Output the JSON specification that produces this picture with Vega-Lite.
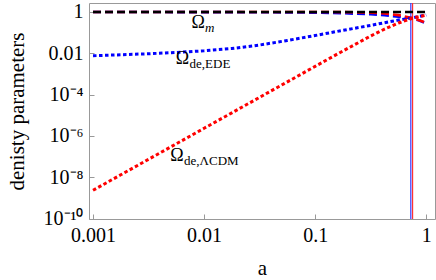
{
  "$schema": "https://vega.github.io/schema/vega-lite/v6.json",
  "width": 346,
  "height": 216,
  "autosize": {"type": "none"},
  "padding": {"left": 89, "top": 3, "right": 1, "bottom": 61},
  "config": {
    "view": {"stroke": "#999999", "strokeWidth": 1},
    "font": "Liberation Serif",
    "axis": {"grid": false, "domain": false, "tickColor": "#999999", "labelColor": "#000000", "titleColor": "#000000", "labelFont": "Liberation Serif", "titleFont": "Liberation Serif", "titleFontWeight": "normal"}
  },
  "datasets": {
    "curves": [
      {"s": "m", "a": 0.001, "v": 1.0},
      {"s": "m", "a": 0.01, "v": 1.0},
      {"s": "m", "a": 0.1, "v": 1.0},
      {"s": "m", "a": 1.0, "v": 1.0},

      {"s": "ede_m", "a": 0.001, "v": 0.9924},
      {"s": "ede_m", "a": 0.003162, "v": 0.9905},
      {"s": "ede_m", "a": 0.01, "v": 0.9868},
      {"s": "ede_m", "a": 0.03162, "v": 0.975},
      {"s": "ede_m", "a": 0.05623, "v": 0.958},
      {"s": "ede_m", "a": 0.1, "v": 0.928},
      {"s": "ede_m", "a": 0.1778, "v": 0.871},
      {"s": "ede_m", "a": 0.3162, "v": 0.776},
      {"s": "ede_m", "a": 0.4217, "v": 0.698},
      {"s": "ede_m", "a": 0.5623, "v": 0.593},
      {"s": "ede_m", "a": 0.7499, "v": 0.48},
      {"s": "ede_m", "a": 0.866, "v": 0.388},
      {"s": "ede_m", "a": 1.0, "v": 0.28},

      {"s": "lcdm_m", "a": 0.001, "v": 1.0},
      {"s": "lcdm_m", "a": 0.01, "v": 1.0},
      {"s": "lcdm_m", "a": 0.05623, "v": 0.9996},
      {"s": "lcdm_m", "a": 0.1, "v": 0.9977},
      {"s": "lcdm_m", "a": 0.1778, "v": 0.987},
      {"s": "lcdm_m", "a": 0.3162, "v": 0.9313},
      {"s": "lcdm_m", "a": 0.4217, "v": 0.851},
      {"s": "lcdm_m", "a": 0.5623, "v": 0.7067},
      {"s": "lcdm_m", "a": 0.7499, "v": 0.504},
      {"s": "lcdm_m", "a": 0.866, "v": 0.3976},
      {"s": "lcdm_m", "a": 1.0, "v": 0.3},

      {"s": "ede_de", "a": 0.001, "v": 0.0076},
      {"s": "ede_de", "a": 0.001778, "v": 0.0085},
      {"s": "ede_de", "a": 0.003162, "v": 0.0095},
      {"s": "ede_de", "a": 0.005623, "v": 0.011},
      {"s": "ede_de", "a": 0.01, "v": 0.0132},
      {"s": "ede_de", "a": 0.01778, "v": 0.017},
      {"s": "ede_de", "a": 0.03162, "v": 0.0251},
      {"s": "ede_de", "a": 0.05623, "v": 0.0417},
      {"s": "ede_de", "a": 0.1, "v": 0.0724},
      {"s": "ede_de", "a": 0.1778, "v": 0.129},
      {"s": "ede_de", "a": 0.3162, "v": 0.224},
      {"s": "ede_de", "a": 0.4217, "v": 0.302},
      {"s": "ede_de", "a": 0.5623, "v": 0.407},
      {"s": "ede_de", "a": 0.7499, "v": 0.52},
      {"s": "ede_de", "a": 0.866, "v": 0.612},
      {"s": "ede_de", "a": 1.0, "v": 0.72},

      {"s": "lcdm_de", "a": 0.001, "v": 2.333e-9},
      {"s": "lcdm_de", "a": 0.001778, "v": 1.312e-8},
      {"s": "lcdm_de", "a": 0.003162, "v": 7.378e-8},
      {"s": "lcdm_de", "a": 0.005623, "v": 4.149e-7},
      {"s": "lcdm_de", "a": 0.01, "v": 2.333e-6},
      {"s": "lcdm_de", "a": 0.01778, "v": 1.312e-5},
      {"s": "lcdm_de", "a": 0.03162, "v": 7.377e-5},
      {"s": "lcdm_de", "a": 0.05623, "v": 4.148e-4},
      {"s": "lcdm_de", "a": 0.1, "v": 0.002328},
      {"s": "lcdm_de", "a": 0.1778, "v": 0.01295},
      {"s": "lcdm_de", "a": 0.3162, "v": 0.0687},
      {"s": "lcdm_de", "a": 0.4217, "v": 0.149},
      {"s": "lcdm_de", "a": 0.5623, "v": 0.2933},
      {"s": "lcdm_de", "a": 0.7499, "v": 0.496},
      {"s": "lcdm_de", "a": 0.866, "v": 0.6024},
      {"s": "lcdm_de", "a": 1.0, "v": 0.7}
    ],
    "rules": [
      {"s": "ede", "a": 0.727},
      {"s": "lcdm", "a": 0.754}
    ],
    "labels": [
      {"k": "m", "a": 0.00883, "v": 0.295, "t": "Ω", "sub": "m"},
      {"k": "ede", "a": 0.0064, "v": 0.00543, "t": "Ω", "sub": "de,EDE"},
      {"k": "lcdm", "a": 0.00571, "v": 1.03e-7, "t": "Ω", "sub": "de,ΛCDM"}
    ]
  },
  "layer": [
    {
      "data": {"name": "rules"},
      "mark": {"type": "rule", "strokeWidth": 1.2},
      "encoding": {
        "x": {"field": "a", "type": "quantitative", "scale": {"type": "log", "domain": [0.00092, 1.2], "nice": false},
          "axis": {"values": [0.001, 0.01, 0.1, 1], "labelExpr": "datum.value >= 1 ? '1' : datum.value >= 0.1 ? '0.1' : datum.value >= 0.01 ? '0.01' : '0.001'", "labelFontSize": 20, "tickSize": -5, "labelPadding": 11, "title": "a", "titleFontSize": 21, "titleX": 173, "titleY": 49, "titleBaseline": "middle", "labelFlush": false, "labelOverlap": false}},
        "color": {"field": "s", "type": "nominal", "scale": {"domain": ["ede", "lcdm"], "range": ["#3333ff", "#ff3333"]}, "legend": null}
      }
    },
    {
      "data": {"name": "curves"},
      "transform": [{"filter": "datum.s == 'ede_m'"}],
      "mark": {"type": "line", "color": "#0000ff", "strokeWidth": 2.6, "strokeDash": [8, 4]},
      "encoding": {
        "x": {"field": "a", "type": "quantitative", "scale": {"type": "log", "domain": [0.00092, 1.2], "nice": false}},
        "y": {"field": "v", "type": "quantitative", "scale": {"type": "log", "domain": [9.5e-11, 2.72], "nice": false},
          "axis": {"values": [1e-10, 1e-8, 1e-6, 1e-4, 0.01, 1], "labelExpr": "datum.value > 0.5 ? '1' : datum.value > 0.005 ? '0.01' : datum.value > 5e-5 ? '10⁻⁴' : datum.value > 5e-7 ? '10⁻⁶' : datum.value > 5e-9 ? '10⁻⁸' : '10⁻¹⁰'", "labelFontSize": 20, "tickSize": -5, "labelPadding": 11, "title": "denisty parameters", "titleFontSize": 21, "titleX": -72, "titleY": 108, "titleAngle": -90, "titleAlign": "center", "titleBaseline": "middle", "labelFlush": false, "labelOverlap": false}}
      }
    },
    {
      "data": {"name": "curves"},
      "transform": [{"filter": "datum.s == 'lcdm_m'"}],
      "mark": {"type": "line", "color": "#ff0000", "strokeWidth": 2.6, "strokeDash": [8, 4]},
      "encoding": {
        "x": {"field": "a", "type": "quantitative", "scale": {"type": "log", "domain": [0.00092, 1.2], "nice": false}},
        "y": {"field": "v", "type": "quantitative", "scale": {"type": "log", "domain": [9.5e-11, 2.72], "nice": false}}
      }
    },
    {
      "data": {"name": "curves"},
      "transform": [{"filter": "datum.s == 'm'"}],
      "mark": {"type": "line", "color": "#000000", "strokeWidth": 2.6, "strokeDash": [8, 4]},
      "encoding": {
        "x": {"field": "a", "type": "quantitative", "scale": {"type": "log", "domain": [0.00092, 1.2], "nice": false}},
        "y": {"field": "v", "type": "quantitative", "scale": {"type": "log", "domain": [9.5e-11, 2.72], "nice": false}}
      }
    },
    {
      "data": {"name": "curves"},
      "transform": [{"filter": "datum.s == 'ede_de'"}],
      "mark": {"type": "line", "color": "#0000ff", "strokeWidth": 3, "strokeDash": [3.5, 2.5]},
      "encoding": {
        "x": {"field": "a", "type": "quantitative", "scale": {"type": "log", "domain": [0.00092, 1.2], "nice": false}},
        "y": {"field": "v", "type": "quantitative", "scale": {"type": "log", "domain": [9.5e-11, 2.72], "nice": false}}
      }
    },
    {
      "data": {"name": "curves"},
      "transform": [{"filter": "datum.s == 'lcdm_de'"}],
      "mark": {"type": "line", "color": "#ff0000", "strokeWidth": 3, "strokeDash": [3.5, 2.5]},
      "encoding": {
        "x": {"field": "a", "type": "quantitative", "scale": {"type": "log", "domain": [0.00092, 1.2], "nice": false}},
        "y": {"field": "v", "type": "quantitative", "scale": {"type": "log", "domain": [9.5e-11, 2.72], "nice": false}}
      }
    },
    {
      "data": {"name": "labels"},
      "mark": {"type": "text", "fontSize": 18, "align": "center", "baseline": "middle", "color": "#000000"},
      "encoding": {
        "x": {"field": "a", "type": "quantitative", "scale": {"type": "log", "domain": [0.00092, 1.2], "nice": false}},
        "y": {"field": "v", "type": "quantitative", "scale": {"type": "log", "domain": [9.5e-11, 2.72], "nice": false}},
        "text": {"field": "t"}
      }
    },
    {
      "data": {"name": "labels"},
      "transform": [{"filter": "datum.k == 'm'"}],
      "mark": {"type": "text", "fontSize": 13, "fontStyle": "italic", "align": "left", "baseline": "middle", "dx": 7, "dy": 5, "color": "#000000"},
      "encoding": {
        "x": {"field": "a", "type": "quantitative", "scale": {"type": "log", "domain": [0.00092, 1.2], "nice": false}},
        "y": {"field": "v", "type": "quantitative", "scale": {"type": "log", "domain": [9.5e-11, 2.72], "nice": false}},
        "text": {"field": "sub"}
      }
    },
    {
      "data": {"name": "labels"},
      "transform": [{"filter": "datum.k != 'm'"}],
      "mark": {"type": "text", "fontSize": 13, "align": "left", "baseline": "middle", "dx": 7, "dy": 5, "color": "#000000"},
      "encoding": {
        "x": {"field": "a", "type": "quantitative", "scale": {"type": "log", "domain": [0.00092, 1.2], "nice": false}},
        "y": {"field": "v", "type": "quantitative", "scale": {"type": "log", "domain": [9.5e-11, 2.72], "nice": false}},
        "text": {"field": "sub"}
      }
    }
  ]
}
